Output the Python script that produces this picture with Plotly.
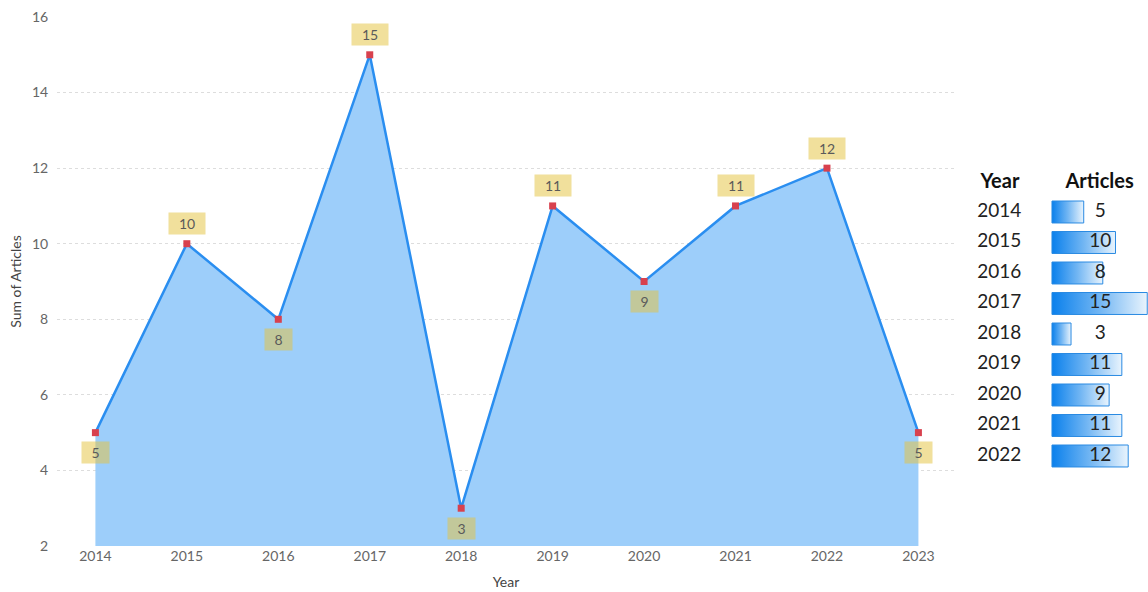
import plotly.graph_objects as go

# Articles published per year
years = [2014, 2015, 2016, 2017, 2018, 2019, 2020, 2021, 2022, 2023]
articles = [5, 10, 8, 15, 3, 11, 9, 11, 12, 5]

# Summary table rows (right-hand panel)
table_years = years[:9]
table_articles = articles[:9]

FONT = "Lato"
LINE_BLUE = "#2a8ef0"
FILL_BLUE = "#9dcefa"
MARK_RED = "#d8414e"

fig = go.Figure()

# Area chart
fig.add_trace(go.Scatter(
    x=years, y=articles, mode="lines+markers",
    fill="tozeroy", fillcolor=FILL_BLUE,
    line=dict(color=LINE_BLUE, width=2.5),
    marker=dict(symbol="square", size=7, color=MARK_RED),
    showlegend=False, hoverinfo="x+y",
))

# Value labels: above when the series rises from the previous year, below otherwise
annotations = []
for i, (yr, v) in enumerate(zip(years, articles)):
    rising = i > 0 and v >= articles[i - 1]
    annotations.append(dict(
        x=yr, y=v, xref="x", yref="y", text=str(v), showarrow=False,
        yshift=20 if rising else -20,
        bgcolor="rgba(228,196,66,0.52)", borderpad=3,
        width=21 if v < 10 else 30, height=15,
        font=dict(family=FONT, size=14, color="#5a5a5a"),
    ))

# Table: gradient bars drawn as filled rectangles on the secondary axes
half_h = 0.36
for i, v in enumerate(table_articles):
    fig.add_trace(go.Scatter(
        x=[0, v, v, 0, 0], y=[i - half_h, i - half_h, i + half_h, i + half_h, i - half_h],
        xaxis="x2", yaxis="y2", mode="lines", fill="toself",
        fillgradient=dict(type="horizontal",
                          colorscale=[[0, "#0a80ec"], [0.5, "#72b6f3"], [1, "#e9f4fd"]]),
        line=dict(color="#2a8ae2", width=1),
        showlegend=False, hoverinfo="skip",
    ))

# Table year column and value column
fig.add_trace(go.Scatter(
    x=[-8.3] * len(table_years), y=list(range(len(table_years))),
    xaxis="x2", yaxis="y2", mode="text", text=[str(y) for y in table_years],
    textfont=dict(family=FONT, size=19, color="#222222"),
    showlegend=False, hoverinfo="skip",
))
fig.add_trace(go.Scatter(
    x=[7.6] * len(table_articles), y=list(range(len(table_articles))),
    xaxis="x2", yaxis="y2", mode="text", text=[str(v) for v in table_articles],
    textfont=dict(family=FONT, size=19, color="#222222"),
    showlegend=False, hoverinfo="skip",
))
# Table headers
fig.add_trace(go.Scatter(
    x=[-8.2, 7.5], y=[-0.95, -0.95],
    xaxis="x2", yaxis="y2", mode="text", text=["<b>Year</b>", "<b>Articles</b>"],
    textfont=dict(family=FONT, size=20, color="#111111"),
    showlegend=False, hoverinfo="skip",
))

fig.update_layout(
    width=1148, height=592,
    margin=dict(l=57, r=0, t=17, b=46),
    plot_bgcolor="white", paper_bgcolor="white",
    annotations=annotations,
    xaxis=dict(
        domain=[0, 898 / 1091], range=[2013.58, 2023.4],
        tickmode="array", tickvals=years,
        showgrid=False, zeroline=False, showline=False, ticks="",
        tickfont=dict(family=FONT, size=14, color="#666666"),
        title=dict(text="Year", font=dict(family=FONT, size=14, color="#444444"), standoff=14),
    ),
    yaxis=dict(
        range=[2, 16], dtick=2,
        showgrid=True, gridcolor="#dddddd", griddash="dot", gridwidth=1,
        zeroline=False, showline=False, ticks="outside", ticklen=5, tickcolor="rgba(0,0,0,0)",
        tickfont=dict(family=FONT, size=14, color="#666666"),
        title=dict(text="Sum of Articles", font=dict(family=FONT, size=14, color="#444444"), standoff=7),
    ),
    xaxis2=dict(domain=[(970 - 57) / 1091, 1], range=[-12.91, 15.12],
                visible=False, anchor="y2", fixedrange=True),
    yaxis2=dict(domain=[0, 1], range=[10.951, -6.393],
                visible=False, anchor="x2", fixedrange=True),
)

fig.write_html("out.html")
